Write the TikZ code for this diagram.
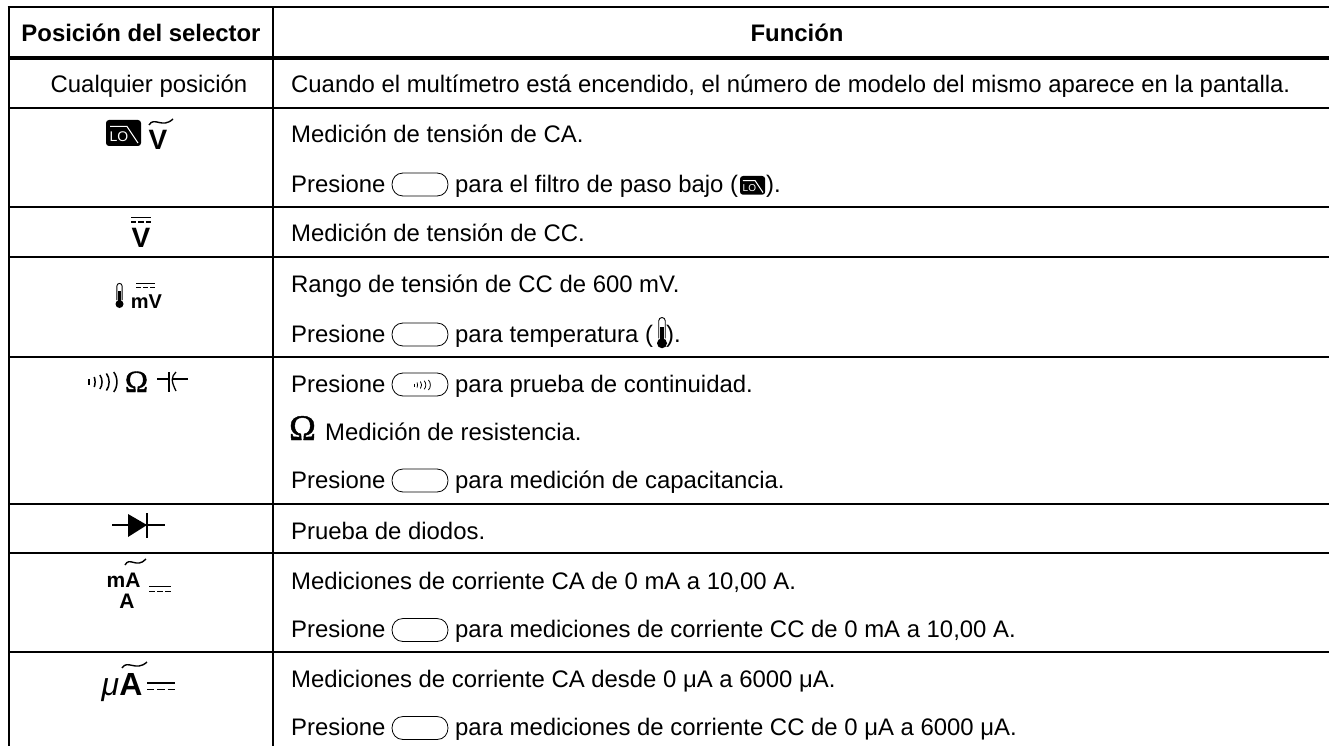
\documentclass[tikz,border=0pt]{standalone}
\usepackage{fontspec}
\setmainfont{Liberation Sans}
\newfontfamily\symserif[FakeBold=1.3]{Liberation Serif}
\tikzset{
  x=1pt,y=-1pt,
  rule/.style={line width=2pt,black},
  body/.style={font=\fontsize{23.9}{26}\selectfont,anchor=base west,inner sep=0pt},
  cbody/.style={font=\fontsize{23.9}{26}\selectfont,anchor=base,inner sep=0pt},
  head/.style={font=\fontsize{23.9}{26}\selectfont\bfseries,anchor=base,inner sep=0pt},
  sym/.style={font=\fontsize{28}{28}\selectfont\bfseries,anchor=base,inner sep=0pt},
}
\newcommand{\keycapbox}[2]{\draw[line width=.8pt] (#1+11,#2-11.5) -- (#1+45,#2-11.5) .. controls (#1+52,#2-11.5) and (#1+56,#2-6) .. (#1+56,#2) .. controls (#1+56,#2+6) and (#1+52,#2+11.5) .. (#1+45,#2+11.5) -- (#1+11,#2+11.5) .. controls (#1+4,#2+11.5) and (#1,#2+6) .. (#1,#2) .. controls (#1,#2-6) and (#1+4,#2-11.5) .. (#1+11,#2-11.5);}
\newcommand{\dcsym}[4]{\draw[line width=#4] (#1,#2) -- (#1+#3,#2);
  \draw[line width=#4,dash pattern=on #3*0.26pt off #3*0.11pt] (#1,#2+#3*.23) -- (#1+#3,#2+#3*.23);}
\newcommand{\wave}[4]{\draw[line width=1.4pt] (#1,#2+#4) .. controls (#1+#3*.22,#2-#4*.5) and (#1+#3*.55,#2+#4*1.7) .. (#1+#3,#2);}
\newcommand{\lowpass}[4]{%
  \begin{scope}[shift={(#1,#2)},scale=#3]
  \fill[black,rounded corners=3pt] (0,0) rectangle (35,26);
  \draw[white,line width=1pt] (4,6.5) -- (21,6.5) -- (32,23);
  \node[white,font=\fontsize{#4}{#4}\selectfont,inner sep=0pt] at (13,17) {LO};
  \end{scope}}
\newcommand{\thermo}[3]{%
  \begin{scope}[shift={(#1,#2)},scale=#3]
  \draw[line width=.9pt] (-2.6,17) -- (-2.6,3) arc (180:360:2.6) -- (2.6,17);
  \fill (0,21) circle (4);
  \fill (-1.6,8) rectangle (1.6,20);
  \end{scope}}
\newcommand{\contin}[5]{%
  \begin{scope}[shift={(#1,#2)},xscale=#3,yscale=#4,line width=#5]
  \draw (0,-3) -- (0,3);
  \draw (3.6,-5) .. controls (4.4,-2) and (4.4,2) .. (3.6,5);
  \draw (7.5,-7) .. controls (9.5,-3) and (9.5,3) .. (7.5,7);
  \draw (12,-8.5) .. controls (14.5,-4) and (14.5,4) .. (12,8.5);
  \draw (17,-10) .. controls (20,-5) and (20,5) .. (17,10);
  \end{scope}}
\begin{document}
\begin{tikzpicture}
\useasboundingbox (0,0) rectangle (1329,746);
\coordinate (tl) at (8.7,7);
\coordinate (tr) at (1329,7);
\coordinate (bl) at (8.7,746);
\coordinate (vt) at (273,7);
\coordinate (vb) at (273,746);
\draw[rule] (7.7,7) -- (tr);
\draw[rule] (tl) -- (bl);
\draw[rule] (vt) -- (vb);
\draw[line width=4pt] (8.7,58) -- (1329,58);
\foreach \yy in {108.5,206.5,257,357,504,553,652}
  \draw[rule] (8.7,\yy) -- (1329,\yy);

\node[head] (h1) at (141,42) {Posición del selector};
\node[head] (h2) at (797,42) {Función};
\node[cbody] (c1) at (149,93) {Cualquier posición};
\node[body] (t1) at (291,93) {Cuando el multímetro está encendido, el número de modelo del mismo aparece en la pantalla.};

% row 2
\lowpass{106}{120}{1}{14}
\node[sym] (v1) at (158,150) {V};
\wave{149}{119}{24}{6}
\node[body] (t2a) at (291,143) {Medición de tensión de CA.};
\node[body] (t2b) at (291,192) {Presione};
\keycapbox{392}{184.5}
\node[body] (t2c) at (455,192) {para el filtro de paso bajo (\hspace{28pt}).};
\lowpass{740}{176}{.72}{10}

% row 3
\node[sym] (v2) at (141,247) {V};
\dcsym{131}{217.5}{20}{1.5pt}
\node[body] (t3) at (291,241) {Medición de tensión de CC.};

% row 4
\thermo{119.5}{283}{1}
\node[sym,font=\fontsize{20}{20}\selectfont\bfseries] (mv) at (146.5,308) {mV};
\dcsym{136}{283.5}{19}{1pt}
\node[body] (t4a) at (291,292) {Rango de tensión de CC de 600 mV.};
\node[body] (t4b) at (291,342) {Presione};
\keycapbox{392}{334.5}
\node[body] (t4c) at (455,342) {para temperatura (\hspace{13pt}).};
\thermo{662}{317}{1.25}

% row 5
\contin{89}{382}{1.45}{1}{1.5pt}
\node[anchor=base,font=\fontsize{31}{31}\selectfont\symserif,inner sep=0pt] (om1) at (136.5,392) {\symbol{"03A9}};
\draw[line width=1.3pt] (157,379) -- (169,379);
\draw[line width=1.3pt] (169,372) -- (169,392);
\draw[line width=1.3pt] (176,372) .. controls (171,377) and (171,381) .. (176,391);
\draw[line width=1.3pt] (172.5,379) -- (188,379);
\node[body] (t5a) at (291,392) {Presione};
\keycapbox{392}{384.5}
\contin{414}{385}{.85}{.5}{.8pt}
\node[body] (t5b) at (455,392) {para prueba de continuidad.};
\node[anchor=base,font=\fontsize{36}{36}\selectfont\symserif,inner sep=0pt] (om2) at (302.5,440) {\symbol{"03A9}};
\node[body] (t5c) at (325,440) {Medición de resistencia.};
\node[body] (t5d) at (291,488) {Presione};
\keycapbox{392}{480.5}
\node[body] (t5e) at (455,488) {para medición de capacitancia.};

% row 6
\coordinate (dl) at (112,525);
\coordinate (dr) at (165,525);
\draw[line width=1.3pt] (dl) -- (dr);
\fill (128,514) -- (147,525) -- (128,537) -- cycle;
\draw[line width=1.3pt] (147,513) -- (147,538);
\node[body] (t6) at (291,539) {Prueba de diodos.};

% row 7
\node[sym,font=\fontsize{21}{21}\selectfont\bfseries] (ma) at (123.5,587) {mA};
\node[sym,font=\fontsize{21}{21}\selectfont\bfseries] (aa) at (127,608) {A};
\wave{125}{559}{21}{6}
\dcsym{149}{586}{22}{1pt}
\node[body] (t7a) at (291,589) {Mediciones de corriente CA de 0 mA a 10,00 A.};
\node[body] (t7b) at (291,637) {Presione};
\keycapbox{392}{630}
\node[body] (t7c) at (455,637) {para mediciones de corriente CC de 0 mA a 10,00 A.};

% row 8
\node[anchor=base,font=\fontsize{32}{32}\selectfont\itshape,inner sep=0pt] (mu) at (110.5,695) {\symbol{"03BC}};
\node[anchor=base,font=\fontsize{32}{32}\selectfont\bfseries,inner sep=0pt] (ua) at (131,695) {A};
\wave{122}{662}{25}{6}
\dcsym{147}{683}{28}{1.5pt}
\node[body] (t8a) at (291,687) {Mediciones de corriente CA desde 0 \symbol{"03BC}A a 6000 \symbol{"03BC}A.};
\node[body] (t8b) at (291,735) {Presione};
\keycapbox{392}{728}
\node[body] (t8c) at (455,735) {para mediciones de corriente CC de 0 \symbol{"03BC}A a 6000 \symbol{"03BC}A.};
\end{tikzpicture}
\end{document}
